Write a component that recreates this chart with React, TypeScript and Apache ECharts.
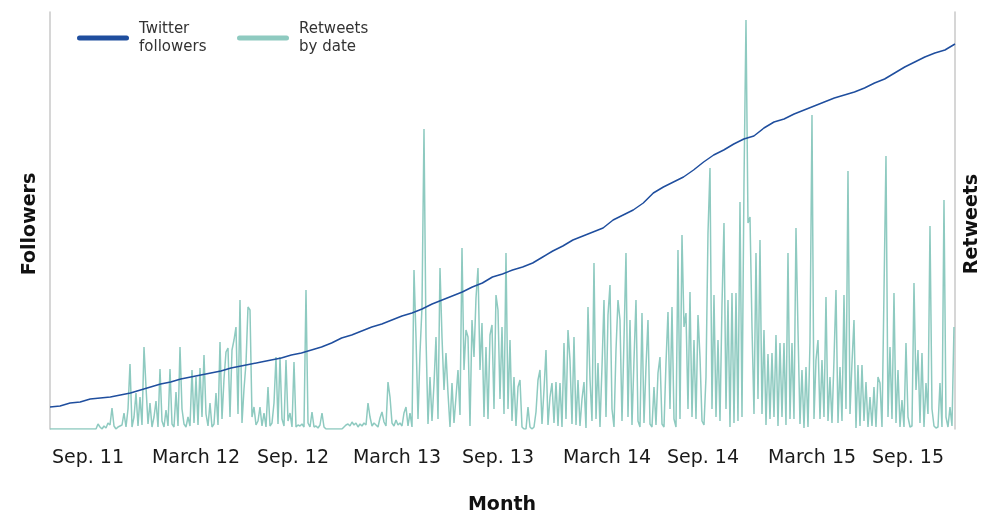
import React, { useEffect, useRef } from "react";
import * as echarts from "echarts";

// x axis unit: months since January 2011
const startMonth = 5.7756;
const endMonth = 58.752;
const retweetStep = 0.117073; // about 3.5 days per point

const tickMonths = [8, 14.32, 20, 26.09, 32, 38.38, 44, 50.38, 56];
const tickLabels = [
  "Sep. 11",
  "March 12",
  "Sep. 12",
  "March 13",
  "Sep. 13",
  "March 14",
  "Sep. 14",
  "March 15",
  "Sep. 15",
];

// Twitter followers (x10), evenly spaced from startMonth to endMonth
const followers = [
  22, 23, 26, 27, 30, 31, 32, 34, 36, 39,
  42, 45, 47, 50, 52, 54, 56, 58, 61, 63,
  65, 67, 69, 71, 74, 76, 79, 82, 86, 91,
  94, 98, 102, 105, 109, 113, 116, 120, 125, 129,
  133, 137, 142, 146, 152, 155, 159, 162, 166, 172,
  178, 183, 189, 193, 197, 201, 209, 214, 219, 226,
  236, 242, 247, 252, 259, 267, 274, 279, 285, 290,
  293, 301, 307, 310, 315, 319, 323, 327, 331, 334,
  337, 341, 346, 350, 356, 362, 367, 372, 376, 379,
  385,
];

// Retweets by date
const retweets2011 = [
  0, 0, 0, 0, 0, 0, 0, 0, 0, 0,
  0, 0, 0, 0, 0, 0, 0, 0, 0, 0,
  0, 0, 0, 0, 5, 2, 0, 3, 1, 6,
  4, 21, 3, 0, 2, 3, 4, 16, 2, 20,
  65, 2, 12, 36, 3, 32, 4, 82, 42, 5,
  26, 2, 12,
];
const retweets2012 = [
  28, 2, 60, 8, 2, 19, 3, 60, 5, 2,
  37, 3, 82, 20, 5, 2, 12, 3, 59, 6,
  52, 4, 61, 12, 74, 15, 3, 26, 2, 5,
  36, 4, 87, 10, 50, 77, 81, 12, 79, 89,
  102, 15, 129, 6, 40, 66, 122, 119, 12, 22,
  4, 8, 22, 3, 16, 2, 42, 3, 6, 26,
  72, 5, 72, 10, 3, 69, 8, 16, 2, 67,
  2, 4, 3, 5, 2, 139, 6, 2, 17, 2,
  3, 1, 4, 16, 2, 0, 0, 0, 0, 0,
  0, 0, 0, 0, 2, 4, 5, 3, 7, 4,
  6, 2, 5,
];
const retweets2013 = [
  3, 6, 4, 26, 12, 3, 6, 4, 2, 11,
  17, 7, 3, 47, 32, 6, 3, 9, 4, 6,
  3, 16, 22, 3, 16, 2, 159, 92, 10, 76,
  122, 300, 92, 5, 52, 8, 45, 92, 10, 161,
  92, 39, 76, 36, 2, 46, 6, 32, 59, 14,
  181, 59, 99, 92, 3, 109, 72, 131, 161, 59,
  106, 12, 82, 10, 94, 104, 20, 134, 119, 30,
  102, 15, 176, 20, 89, 8, 52, 3, 42, 49,
  2, 0, 0, 22, 2, 0, 2, 17, 49, 59,
  5, 39, 79, 4, 32, 46, 6, 47, 3, 46,
  2, 86,
];
const retweets2014 = [
  10, 99, 69, 5, 92, 4, 49, 3, 30, 47,
  1, 122, 50, 8, 166, 10, 66, 2, 62, 129,
  12, 114, 144, 20, 2, 79, 129, 109, 8, 89,
  176, 12, 109, 4, 69, 129, 8, 2, 116, 6,
  62, 109, 5, 2, 42, 4, 56, 72, 5, 2,
  66, 117, 20, 122, 10, 2, 179, 10, 194, 102,
  116, 20, 137, 12, 89, 10, 114, 72, 8, 4,
  52, 196, 261, 20, 134, 12, 89, 8, 124, 206,
  20, 129, 2, 136, 6, 136, 8, 227, 12, 246,
  409, 206, 212, 102, 15, 176, 30, 189, 15, 99,
  4, 75, 10,
];
const retweets2015 = [
  76, 12, 94, 3, 86, 12, 86, 4, 176, 10,
  86, 10, 201, 99, 5, 59, 1, 62, 2, 86,
  314, 10, 69, 89, 10, 69, 12, 132, 8, 52,
  6, 69, 139, 6, 62, 8, 134, 20, 258, 15,
  66, 109, 1, 64, 3, 64, 8, 47, 2, 32,
  3, 42, 2, 52, 46, 2, 136, 273, 12, 82,
  10, 136, 6, 59, 2, 29, 2, 86, 12, 2,
  3, 146, 39, 79, 6, 76, 2, 46, 15, 203,
  20, 3, 1, 2, 46, 2, 229, 12, 2, 22,
  3, 102,
];

const BLUE = "#1f4e9e";
const TEAL = "#8ecac0";
const FONT = "'DejaVu Sans', Verdana, sans-serif";

export default function App() {
  const ref = useRef<HTMLDivElement>(null);

  useEffect(() => {
    if (!ref.current) return;
    const chart = echarts.init(ref.current, undefined, { renderer: "svg" });

    const retweets = [
      ...retweets2011,
      ...retweets2012,
      ...retweets2013,
      ...retweets2014,
      ...retweets2015,
    ];
    const retweetData = retweets.map((v, i) => [startMonth + i * retweetStep, v]);
    const followerStep = (endMonth - startMonth) / (followers.length - 1);
    const followerData = followers.map((v, i) => [startMonth + i * followerStep, v * 10]);

    const hiddenAxisParts = {
      axisTick: { show: false },
      axisLabel: { show: false },
      splitLine: { show: false },
    };

    chart.setOption({
      animation: false,
      grid: { left: 50, right: 26, top: 12, bottom: 84, containLabel: false },
      xAxis: {
        type: "value",
        min: startMonth,
        max: endMonth,
        axisLine: { show: false },
        axisTick: { show: false },
        splitLine: { show: false },
        axisLabel: {
          customValues: tickMonths,
          formatter: (val: number) => {
            const idx = tickMonths.findIndex((t) => Math.abs(t - val) < 0.01);
            return idx >= 0 ? tickLabels[idx] : "";
          },
          fontFamily: FONT,
          fontSize: 19,
          color: "#1a1a1a",
          margin: 17,
        },
      },
      yAxis: [
        {
          type: "value",
          min: 0,
          max: 4170,
          position: "left",
          axisLine: { show: true, onZero: false, lineStyle: { color: "#c8c8c8", width: 1.5 } },
          ...hiddenAxisParts,
        },
        {
          type: "value",
          min: 0,
          max: 417,
          position: "right",
          axisLine: { show: true, onZero: false, lineStyle: { color: "#c8c8c8", width: 1.5 } },
          ...hiddenAxisParts,
        },
      ],
      series: [
        {
          name: "Retweets by date",
          type: "line",
          yAxisIndex: 1,
          data: retweetData,
          symbol: "none",
          lineStyle: { color: TEAL, width: 1.5 },
          itemStyle: { color: TEAL },
        },
        {
          name: "Twitter followers",
          type: "line",
          yAxisIndex: 0,
          data: followerData,
          symbol: "none",
          lineStyle: { color: BLUE, width: 1.5 },
          itemStyle: { color: BLUE },
        },
      ],
      graphic: [
        {
          type: "line",
          shape: { x1: 79.5, y1: 38, x2: 126.5, y2: 38 },
          style: { stroke: BLUE, lineWidth: 5, lineCap: "round" },
        },
        {
          type: "text",
          x: 139,
          y: 27.5,
          style: { text: "Twitter", font: `15px ${FONT}`, fill: "#333", verticalAlign: "middle" },
        },
        {
          type: "text",
          x: 139,
          y: 46,
          style: { text: "followers", font: `15px ${FONT}`, fill: "#333", verticalAlign: "middle" },
        },
        {
          type: "line",
          shape: { x1: 239.5, y1: 38, x2: 286.5, y2: 38 },
          style: { stroke: TEAL, lineWidth: 5, lineCap: "round" },
        },
        {
          type: "text",
          x: 299,
          y: 27.5,
          style: { text: "Retweets", font: `15px ${FONT}`, fill: "#333", verticalAlign: "middle" },
        },
        {
          type: "text",
          x: 299,
          y: 46,
          style: { text: "by date", font: `15px ${FONT}`, fill: "#333", verticalAlign: "middle" },
        },
        {
          type: "text",
          x: 27.5,
          y: 224,
          rotation: Math.PI / 2,
          style: {
            text: "Followers",
            font: `bold 19px ${FONT}`,
            fill: "#111",
            align: "center",
            verticalAlign: "middle",
          },
        },
        {
          type: "text",
          x: 970,
          y: 224,
          rotation: Math.PI / 2,
          style: {
            text: "Retweets",
            font: `bold 19px ${FONT}`,
            fill: "#111",
            align: "center",
            verticalAlign: "middle",
          },
        },
        {
          type: "text",
          x: 502,
          y: 503,
          style: {
            text: "Month",
            font: `bold 19px ${FONT}`,
            fill: "#111",
            align: "center",
            verticalAlign: "middle",
          },
        },
      ],
    });

    return () => chart.dispose();
  }, []);

  return (
    <div
      ref={ref}
      style={{ position: "fixed", left: 0, top: 0, width: 981, height: 513 }}
    />
  );
}
